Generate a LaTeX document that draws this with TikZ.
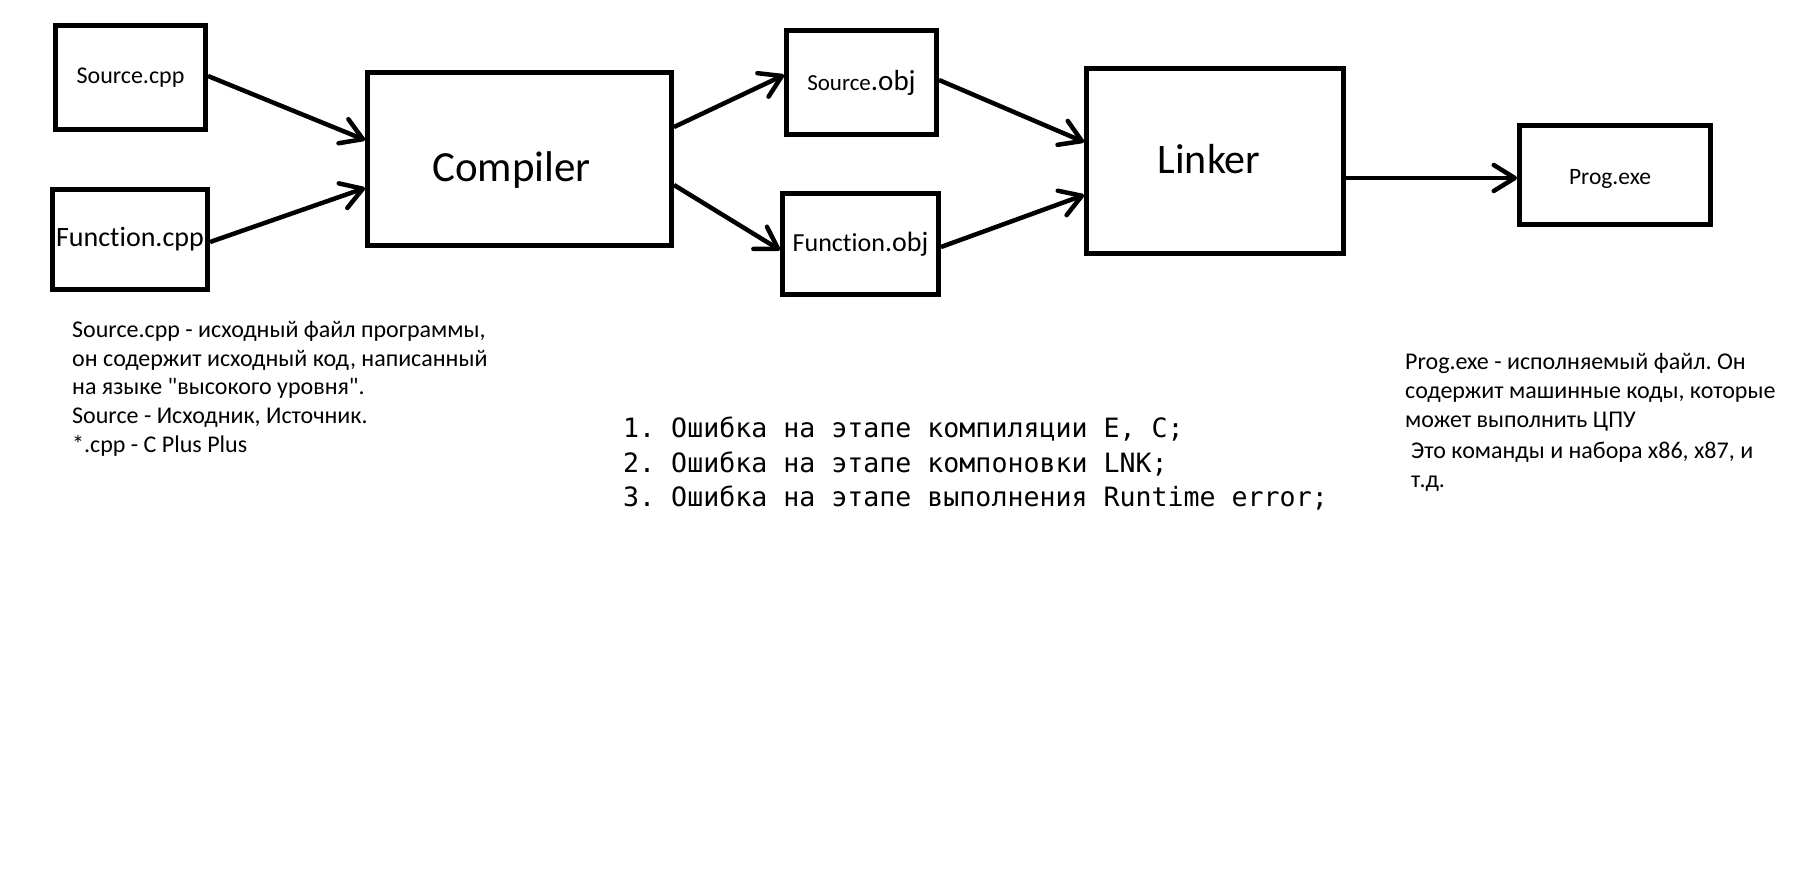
\documentclass[tikz,border=0pt]{standalone}
\usepackage{fontspec}
\setmainfont{Carlito}[Ligatures={TeXOff,NoCommon}]
\newfontfamily\monofont{DejaVu Sans Mono}
\usetikzlibrary{arrows.meta}
\frenchspacing
\newcommand{\fs}[1]{\fontsize{#1}{#1}\selectfont}
\newcommand{\lbl}[2]{\raisebox{#1}[0pt][0pt]{#2}}
\begin{document}
\begin{tikzpicture}[x=1pt,y=-1pt,
  box/.style={draw, line width=5pt, inner sep=0pt, align=center},
  arr/.style={line width=4.5pt, -{Straight Barb[length=21pt,width=26pt,round]}},
  note/.style={anchor=base west, inner sep=0pt, font=\fs{24}},
  mono/.style={anchor=base west, inner sep=0pt, font=\monofont\fs{26.6}}]
\fill[white] (0,0) rectangle (1796,878);
\useasboundingbox (0,0) rectangle (1796,878);

% boxes
\node[box, minimum width=150pt, minimum height=104pt, font=\fs{24}] (srccpp) at (130.5,77.5) {Source.cpp};
\node[box, minimum width=155pt, minimum height=100pt, font=\fs{28}] (funccpp) at (130,239.5) {Function.cpp};
\node[box, minimum width=304pt, minimum height=173pt, font=\fs{43}] (compiler) at (519.5,159) {\lbl{-22pt}{Compiler}\hspace{16pt}};
\node[box, minimum width=150pt, minimum height=104pt] (srcobj) at (861.5,82.5) {{\fs{23}Source}{\fs{29}.obj}};
\node[box, minimum width=156pt, minimum height=101pt] (funcobj) at (860.5,244) {{\fs{26}Function}{\fs{28}.obj}};
\node[box, minimum width=257pt, minimum height=185pt, font=\fs{42}] (linker) at (1215,161) {\lbl{-12.5pt}{Linker}\hspace{12pt}};
\node[box, minimum width=191pt, minimum height=99pt, font=\fs{23.5}] (prog) at (1615,175) {\lbl{-9.5pt}{Prog.exe}\hspace{10pt}};

% connectors
\draw[arr] ([yshift=1.5pt]srccpp.east) -- ([yshift=19pt]compiler.west);
\draw[arr] ([yshift=-2.5pt]funccpp.east) -- ([yshift=-29pt]compiler.west);
\draw[arr] ([yshift=32pt]compiler.east) -- ([yshift=7.5pt]srcobj.west);
\draw[arr] ([yshift=-26pt]compiler.east) -- ([yshift=-6pt]funcobj.west);
\draw[arr] ([yshift=2.5pt]srcobj.east) -- ([yshift=19pt]linker.west);
\draw[arr] ([yshift=-3pt]funcobj.east) -- ([yshift=-34pt]linker.west);
\draw[arr] ([yshift=-17pt]linker.east) -- ([yshift=-3pt]prog.west);

% left notes
\node[note] (l1) at (72,337) {Source.cpp - исходный файл программы,};
\node[note] (l2) at (72,366) {он содержит исходный код, написанный};
\node[note] (l3) at (72,394) {на языке "высокого уровня".};
\node[note] (l4) at (72,423) {Source - Исходник, Источник.};
\node[note] (l5) at (72,452) {*.cpp - C Plus Plus};

% middle list
\node[mono] (m1) at (623,437) {1. Ошибка на этапе компиляции E, C;};
\node[mono] (m2) at (623,472) {2. Ошибка на этапе компоновки LNK;};
\node[mono] (m3) at (623,506) {3. Ошибка на этапе выполнения Runtime error;};

% right notes
\node[note] (r1) at (1405,369) {Prog.exe - исполняемый файл. Он};
\node[note] (r2) at (1405,398) {содержит машинные коды, которые};
\node[note] (r3) at (1405,427) {может выполнить ЦПУ};
\node[note] (r4) at (1411,458) {Это команды и набора x86, x87, и};
\node[note] (r5) at (1411,487) {т.д.};
\end{tikzpicture}
\end{document}
